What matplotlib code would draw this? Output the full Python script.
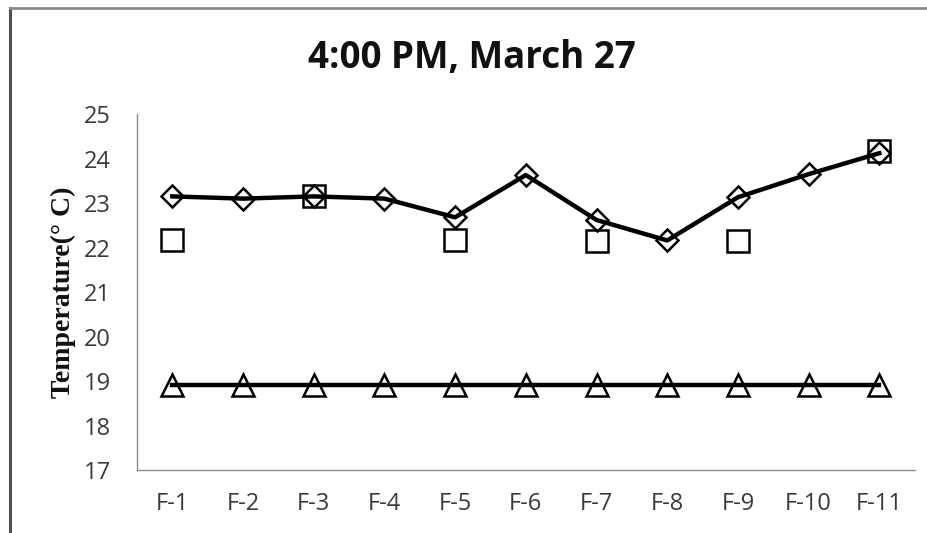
import numpy as np
import matplotlib.pyplot as plt
from matplotlib.lines import Line2D

# data
labels = ['F-1', 'F-2', 'F-3', 'F-4', 'F-5', 'F-6', 'F-7', 'F-8', 'F-9', 'F-10', 'F-11']
diamond_vals = [23.15, 23.1, 23.15, 23.1, 22.68, 23.63, 22.62, 22.16, 23.13, 23.65, 24.12]
square_vals = [22.18, np.nan, 23.17, np.nan, 22.16, np.nan, 22.14, np.nan, 22.14, np.nan, 24.17]
triangle_vals = [18.92] * 11
yticks = [17, 18, 19, 20, 21, 22, 23, 24, 25]

x = np.arange(len(labels))

fig = plt.figure(figsize=(9.28, 5.33), dpi=100)
ax = fig.add_axes([0.1476, 0.118, 0.838, 0.668])

# line series with diamonds and triangles, squares are points only
ax.plot(x, diamond_vals, color='black', lw=3.2, marker='D', ms=11,
        mfc='none', mec='black', mew=1.8, zorder=3)
ax.plot(x, square_vals, ls='none', marker='s', ms=15.5,
        mfc='none', mec='black', mew=1.8, zorder=3)
ax.plot(x, triangle_vals, color='black', lw=3.2, marker='^', ms=15.5,
        mfc='none', mec='black', mew=1.8, zorder=3)

ax.set_xlim(-0.5, len(labels) - 0.5)
ax.set_ylim(17, 25)
ax.set_yticks(yticks)
ax.set_xticks(x)
ax.set_xticklabels(labels)

for s in ['top', 'right']:
    ax.spines[s].set_visible(False)
for s in ['left', 'bottom']:
    ax.spines[s].set_color('#8c8c8c')
    ax.spines[s].set_linewidth(1.0)

ax.tick_params(axis='both', length=0, labelsize=17, labelcolor='#3a3a3a')
ax.tick_params(axis='x', pad=16)
ax.tick_params(axis='y', pad=19)
for t in ax.get_xticklabels() + ax.get_yticklabels():
    t.set_family('Open Sans')

ax.set_ylabel('Temperature(\u00b0 C)', family='Liberation Serif', fontweight='bold',
              fontsize=20, color='#111111')
ax.yaxis.set_label_coords(-0.078, 0.5)

fig.text(472 / 928, 1 - 58 / 533, '4:00 PM, March 27', ha='center', va='center',
         family='Open Sans', fontweight='bold', fontsize=26.5, color='#111111')

# outer frame: only left and top edges show
fig.add_artist(Line2D([10 / 928, 10 / 928], [0, 1 - 8 / 533], transform=fig.transFigure,
                      color='#505050', lw=2.2))
fig.add_artist(Line2D([10 / 928, 1], [1 - 8 / 533, 1 - 8 / 533], transform=fig.transFigure,
                      color='#8a8a8a', lw=2.0))

fig.savefig('out.png', dpi=100)
